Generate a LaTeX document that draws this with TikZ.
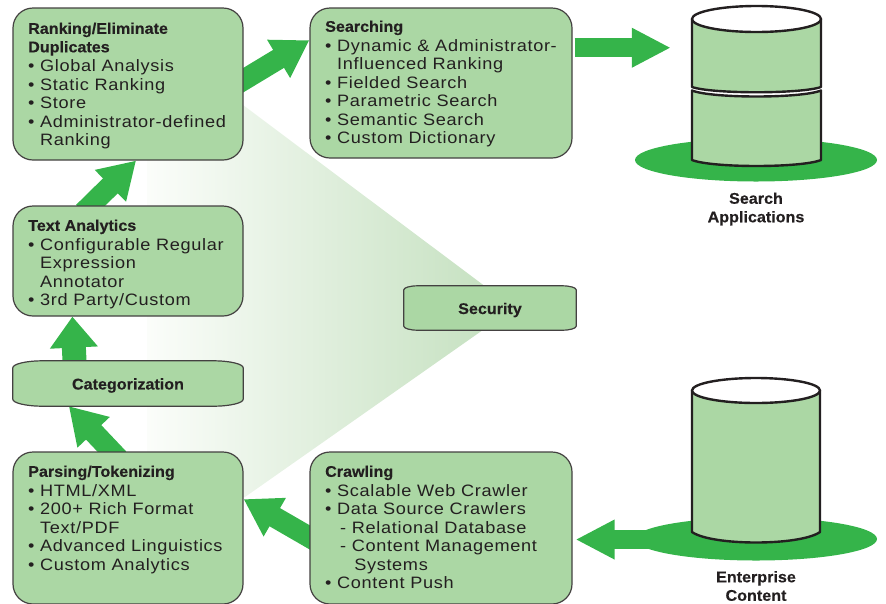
\documentclass[tikz,border=0pt]{standalone}
\usepackage{fontspec}
\setmainfont[FakeStretch=1.1,LetterSpace=4]{Liberation Sans}
\newfontfamily\hd[FakeStretch=1.04,FakeBold=0.3]{Liberation Sans Bold}
\usetikzlibrary{arrows.meta,calc,shapes.geometric}
\pgfdeclarelayer{back}\pgfdeclarelayer{under}
\pgfsetlayers{back,under,main}
\definecolor{boxgreen}{HTML}{ABD7A4}
\definecolor{flowgreen}{HTML}{35B44A}
\definecolor{wedgegreen}{HTML}{C6E1C1}
\definecolor{wedgepale}{HTML}{FBFDFA}
\definecolor{ink}{HTML}{231F20}
\newcommand\bul{\makebox[12pt][l]{\textbullet}}
\newcommand\ind{\hspace*{12pt}}
\newcommand\subind{\hspace*{15pt}}
\newcommand\ttl[1]{\raisebox{1pt}[\height][\depth]{\hd\fontsize{15.5}{18.5}\selectfont #1}}
\newcommand\flatbox[3]{\filldraw[boxline]
  ($(#1.north west)+(#2pt,0pt)$) -- ($(#1.north east)+(-#2pt,0pt)$)
  arc[start angle=90,end angle=0,x radius=#2pt,y radius=#3pt]
  -- ($(#1.south east)+(0pt,#3pt)$)
  arc[start angle=0,end angle=-90,x radius=#2pt,y radius=#3pt]
  -- ($(#1.south west)+(#2pt,0pt)$)
  arc[start angle=-90,end angle=-180,x radius=#2pt,y radius=#3pt]
  -- ($(#1.north west)+(0pt,-#3pt)$)
  arc[start angle=180,end angle=90,x radius=#2pt,y radius=#3pt] -- cycle;}
\tikzset{
  x=1pt,y=-1pt,
  boxline/.style={draw=ink!85,line width=1.2pt,fill=boxgreen},
  pbox/.style={boxline,rectangle,rounded corners=20pt,inner sep=0pt},
  slot/.style={rectangle,inner sep=0pt},
  boxtext/.style={anchor=north west,inner sep=0pt,align=left,text=ink,
    font=\fontsize{16.5}{18.5}\selectfont},
  head/.style={font=\hd\fontsize{15.5}{18.5}\selectfont,text=ink,align=center,inner sep=0pt},
  flow/.style={draw=flowgreen,line width=#1},
  flow/.default=21pt,
  diag/.style={flow=21pt,shorten <=-10pt,-{Triangle[length=36pt,width=42pt]}},
  straight/.style={flow=19pt,-{Triangle[length=39pt,width=37pt]}},
  cyl/.style={draw=ink,line width=2.4pt,fill=boxgreen,line join=round},
  base/.style={ellipse,fill=flowgreen,inner sep=0pt,minimum width=242pt,minimum height=43pt},
}
\begin{document}
\begin{tikzpicture}
\useasboundingbox (0,0) rectangle (886,603);

% process boxes
\node[pbox,minimum width=230pt,minimum height=152pt] (rank) at (128,84) {};
\node[pbox,minimum width=262pt,minimum height=150pt] (search) at (441,83) {};
\node[pbox,minimum width=230pt,minimum height=110pt] (text) at (128,261) {};
\node[slot,minimum width=230pt,minimum height=45pt] (cat) at (128,383.5) {};
\flatbox{cat}{30}{7}
\node[slot,minimum width=172pt,minimum height=44pt] (sec) at (490,308) {};
\flatbox{sec}{14}{4}
\node[pbox,minimum width=230pt,minimum height=152pt] (parse) at (128,528) {};
\node[pbox,minimum width=262pt,minimum height=152pt] (crawl) at (441,528) {};

% box texts
\node[boxtext] (rankT) at (28,23.4) {\ttl{Ranking/Eliminate}\\\ttl{Duplicates}\\
\bul Global Analysis\\\bul Static Ranking\\\bul Store\\\bul Administrator-defined\\\ind Ranking};
\node[boxtext] (searchT) at (325,21.4) {\ttl{Searching}\\
\bul Dynamic \& Administrator-\\\ind Influenced Ranking\\\bul Fielded Search\\\bul Parametric Search\\\bul Semantic Search\\\bul Custom Dictionary};
\node[boxtext] (textT) at (28,220.4) {\ttl{Text Analytics}\\
\bul Configurable Regular\\\ind Expression\\\ind Annotator\\\bul 3rd Party/Custom};
\node[head] (catT) at (128,385.5) {Categorization};
\node[head] (secT) at (490,310) {Security};
\node[boxtext] (parseT) at (28,466.4) {\ttl{Parsing/Tokenizing}\\
\bul HTML/XML\\\bul 200+ Rich Format\\\ind Text/PDF\\\bul Advanced Linguistics\\\bul Custom Analytics};
\node[boxtext] (crawlT) at (325,466.4) {\ttl{Crawling}\\
\bul Scalable Web Crawler\\\bul Data Source Crawlers\\\subind - Relational Database\\\subind - Content Management\\\ind\ \ \ Systems\\\bul Content Push};

% search applications store
\node[base] (sbase) at (756,160) {};
\node[slot,minimum width=129pt,minimum height=160pt] (sdb) at (756.5,86) {};
\filldraw[cyl] (692,90.5) .. controls (712,98.5) and (801,98.5) .. (821,90.5) -- (821,160)
  .. controls (801,168) and (712,168) .. (692,160) -- cycle;
\filldraw[cyl] (692,19) -- (692,87) .. controls (712,94) and (801,94) .. (821,87) -- (821,19) -- cycle;
\filldraw[cyl,fill=white] (756.5,19) ellipse [x radius=64.5,y radius=13];
\node[head] (sname) at (756,209) {Search\\Applications};

% enterprise content store
\node[base] (ebase) at (756,539) {};
\node[slot,minimum width=128pt,minimum height=165pt] (edb) at (756,460) {};
\filldraw[cyl] (692,390.5) -- (692,532) .. controls (712,546) and (800,546) .. (820,532) -- (820,390.5) -- cycle;
\filldraw[cyl,fill=white] (756,390.5) ellipse [x radius=64,y radius=12.5];
\node[head] (ename) at (756,586) {Enterprise\\Content};

% connectors
\begin{pgfonlayer}{under}
\draw[diag] (crawl.-176.9) -- (parse.14.6);
\draw[diag] (parse.102.6) -- (cat.-159);
\draw[flow=24pt,-{Triangle[length=31pt,width=46pt]}] (cat.157.8) -- (text.-135);
\draw[diag] (text.124) -- (rank.-84.7);
\draw[diag] (rank.2) -- (search.162.6);
\draw[straight,shorten <=2pt,shorten >=21pt] (search.15.4) -- (search.15.4 -| sdb.west);
\draw[straight,shorten >=3pt] (crawl.-5 -| ebase.center) -- (crawl.-5);
\end{pgfonlayer}

% security wedge
\begin{pgfonlayer}{back}
\shade[left color=wedgepale,right color=wedgegreen]
  (147,110) -- (243,105) -- (490,290) -- (490,325) -- (245,497) -- (147,497) -- cycle;
\end{pgfonlayer}
\end{tikzpicture}
\end{document}
